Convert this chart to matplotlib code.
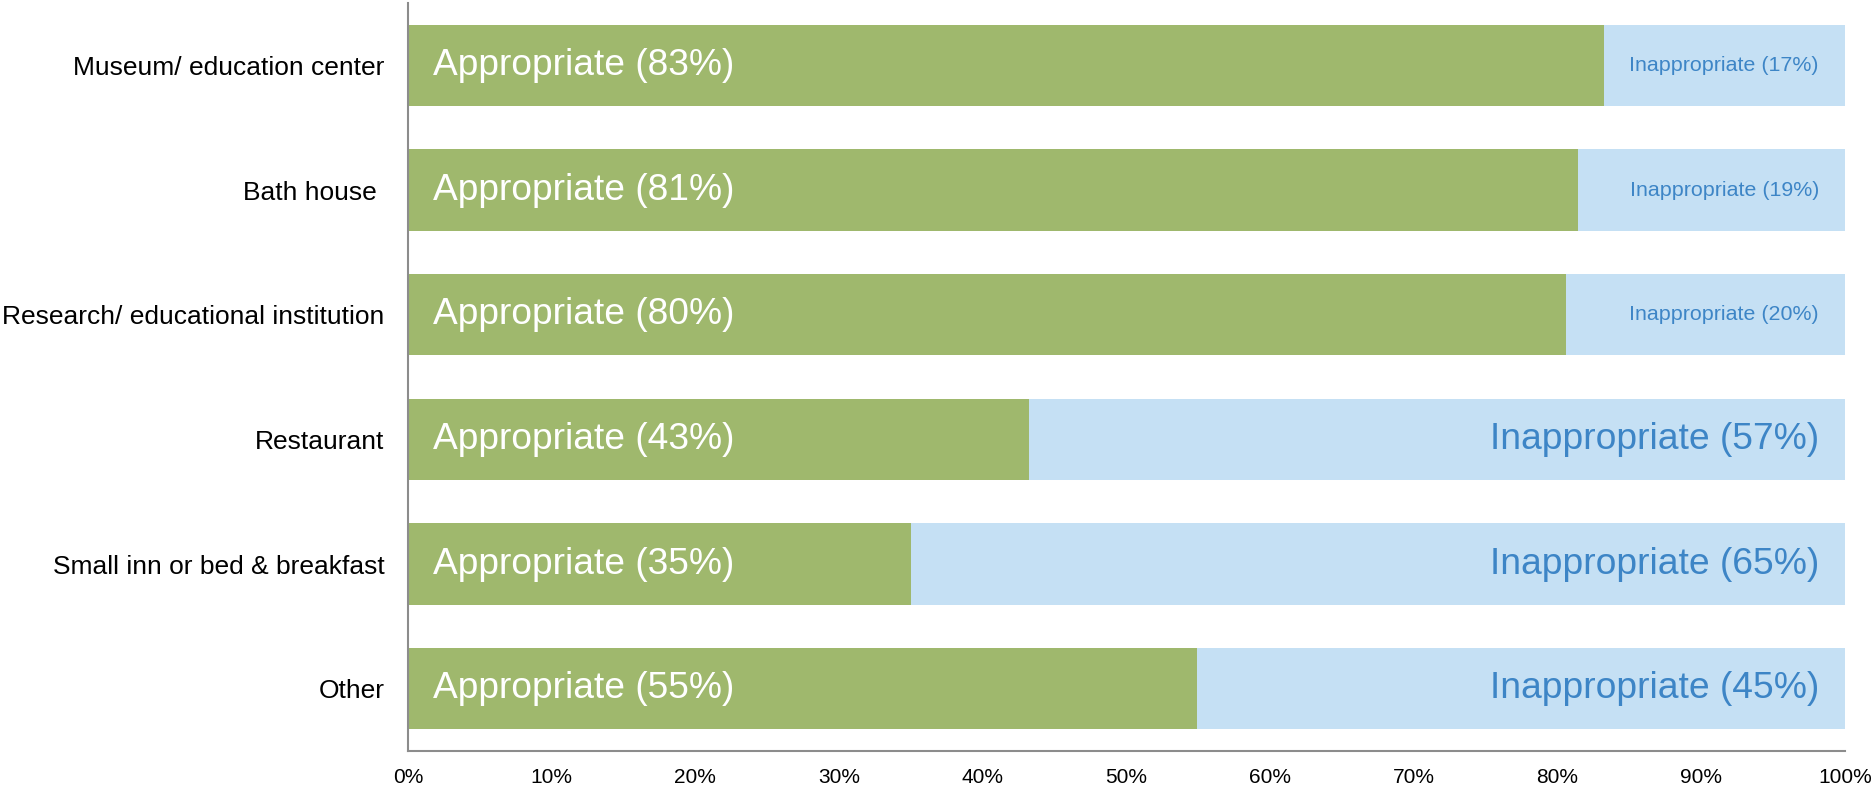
import matplotlib
matplotlib.use("Agg")
import matplotlib.pyplot as plt
from matplotlib.ticker import FuncFormatter

categories = ["Museum/ education center", "Bath house ", "Research/ educational institution",
              "Restaurant", "Small inn or bed & breakfast", "Other"]
appropriate = [83.2, 81.4, 80.6, 43.2, 35.0, 54.9]
appr_labels = [83, 81, 80, 43, 35, 55]
inappr_labels = [17, 19, 20, 57, 65, 45]
xticks = [0, 10, 20, 30, 40, 50, 60, 70, 80, 90, 100]

green = "#9FB86D"
lightblue = "#C5E0F4"
textblue = "#3D85C6"

plt.rcParams['font.family'] = ['Liberation Sans', 'DejaVu Sans']
fig = plt.figure(figsize=(18.74, 7.89), dpi=100)
ax = fig.add_axes([408/1874, 1-751/789, (1845-408)/1874, 748/789])

ys = list(range(len(categories)))
inappr = [100 - a for a in appropriate]
ax.barh(ys, appropriate, height=0.65, color=green, linewidth=0)
ax.barh(ys, inappr, left=appropriate, height=0.65, color=lightblue, linewidth=0)

for y, a, al, il in zip(ys, appropriate, appr_labels, inappr_labels):
    ax.annotate(f"Appropriate ({al}%)", xy=(0, y), xytext=(25, 0), textcoords="offset pixels",
                ha="left", va="center", color="white", fontsize=26.7)
    fs = 15.4 if il < 30 else 26.8
    ax.annotate(f"Inappropriate ({il}%)", xy=(100, y), xytext=(-26, 0), textcoords="offset pixels",
                ha="right", va="center", color=textblue, fontsize=fs)

ax.set_xlim(0, 100)
ax.set_ylim(len(categories) - 0.5, -0.5)
ax.set_yticks(ys)
ax.set_yticklabels(categories, fontsize=19)
ax.set_xticks(xticks)
ax.xaxis.set_major_formatter(FuncFormatter(lambda v, p: f"{int(v)}%"))
ax.tick_params(axis='x', length=0, pad=12, labelsize=15)
ax.tick_params(axis='y', length=0, pad=17)
for s in ["top", "right"]:
    ax.spines[s].set_visible(False)
for s in ["left", "bottom"]:
    ax.spines[s].set_color("#8C8C8C")
    ax.spines[s].set_linewidth(1.5)

fig.savefig("out.png", dpi=100)
